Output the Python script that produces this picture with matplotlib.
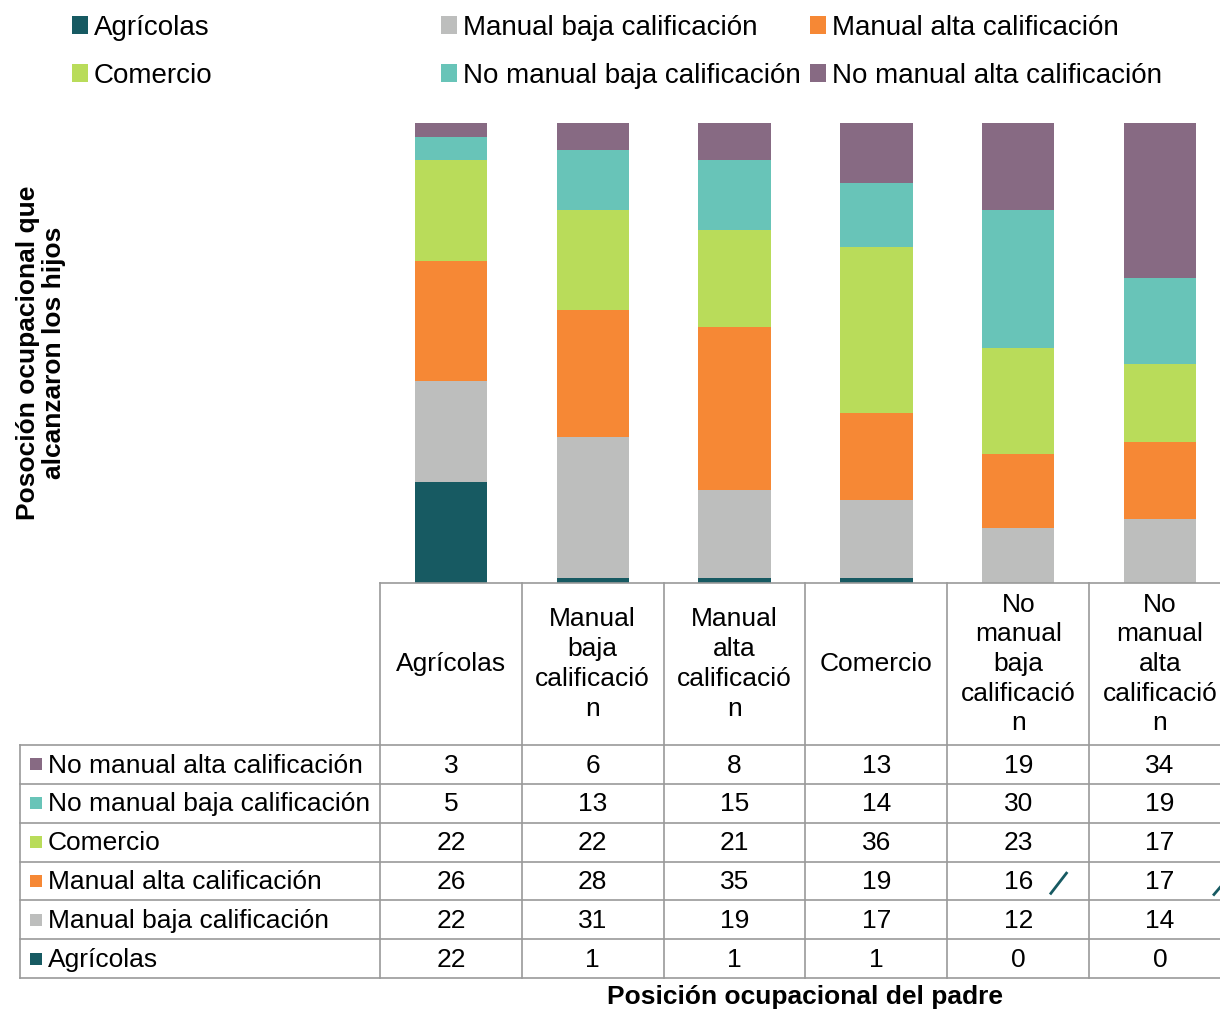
import numpy as np
import matplotlib.pyplot as plt
from matplotlib.patches import Patch, Rectangle

plt.rcParams['font.family'] = ['Liberation Sans', 'DejaVu Sans']

# father's occupational position (columns)
padre = ['Agrícolas', 'Manual baja calificación', 'Manual alta calificación',
         'Comercio', 'No manual baja calificación', 'No manual alta calificación']
padre_wrapped = ['Agrícolas', 'Manual\nbaja\ncalificació\nn', 'Manual\nalta\ncalificació\nn',
                 'Comercio', 'No\nmanual\nbaja\ncalificació\nn', 'No\nmanual\nalta\ncalificació\nn']

# children's position (stack order, bottom to top)
hijos = ['Agrícolas', 'Manual baja calificación', 'Manual alta calificación',
         'Comercio', 'No manual baja calificación', 'No manual alta calificación']
agricolas = [22, 1, 1, 1, 0, 0]
manual_baja = [22, 31, 19, 17, 12, 14]
manual_alta = [26, 28, 35, 19, 16, 17]
comercio = [22, 22, 21, 36, 23, 17]
no_manual_baja = [5, 13, 15, 14, 30, 19]
no_manual_alta = [3, 6, 8, 13, 19, 34]
colores = ['#175A62', '#BDBEBD', '#F68835', '#B9DC5A', '#68C4B8', '#876A83']

series = [agricolas, manual_baja, manual_alta, comercio, no_manual_baja, no_manual_alta]
data = np.array(series, dtype=float)
pct = data / data.sum(axis=0) * 100

W, H = 1220, 1011
fig = plt.figure(figsize=(W / 100, H / 100), dpi=100)

col_w = 141.83
x0 = 380
right = x0 + 6 * col_w

# bars
ax = fig.add_axes([x0 / W, 1 - 583 / H, (right - x0) / W, (583 - 123) / H])
bottom = np.zeros(6)
for i in range(6):
    ax.bar(np.arange(6) + 0.5, pct[i], width=0.51, bottom=bottom, color=colores[i],
           edgecolor='none')
    bottom += pct[i]
ax.set_xlim(0, 6)
ax.set_ylim(0, 100)
ax.axis('off')

# table
row_h = (978 - 745) / 6
lab_w = (x0 - 20) / col_w
head_h = (745 - 583) / row_h
tax = fig.add_axes([20 / W, 1 - 978 / H, (right - 20) / W, (978 - 583) / H])
tax.set_xlim(-lab_w, 6)
tax.set_ylim(0, 6 + head_h)
tax.axis('off')
lc = '#9a9a9a'
lw = 1.2
for r in range(7):
    tax.plot([-lab_w, 6], [r, r], color=lc, lw=lw, clip_on=False)
tax.plot([0, 6], [6 + head_h, 6 + head_h], color=lc, lw=lw, clip_on=False)
for c in range(7):
    tax.plot([c, c], [0, 6 + head_h], color=lc, lw=lw, clip_on=False)
tax.plot([-lab_w, -lab_w], [0, 6], color=lc, lw=lw, clip_on=False)

fs = 19
for c in range(6):
    tax.text(c + 0.5, 6 + head_h / 2, padre_wrapped[c], ha='center', va='center',
             fontsize=fs, linespacing=1.3)
for i in range(6):
    r = i  # Agrícolas at bottom row
    tax.add_patch(Rectangle((-lab_w + 10 / col_w, r + 0.5 - 6 / row_h), 12 / col_w, 12 / row_h,
                            color=colores[i], lw=0))
    tax.text(-lab_w + 28 / col_w, r + 0.47, hijos[i], ha='left', va='center', fontsize=fs)
    for c in range(6):
        tax.text(c + 0.5, r + 0.47, str(series[i][c]), ha='center', va='center', fontsize=fs)

# stray marks in the source
tax.plot([4.73, 4.84], [2.18, 2.70], color='#175A62', lw=2)
tax.plot([5.88, 5.95], [2.15, 2.45], color='#175A62', lw=2)

# legend in three columns
handles = [Patch(facecolor=c, edgecolor='none', label=l) for c, l in zip(colores, hijos)]
groups = [(72, [0, 3]), (441, [1, 4]), (810, [2, 5])]
for xpos, idx in groups:
    leg = fig.legend(handles=[handles[k] for k in idx], loc='upper left',
                     bbox_to_anchor=(xpos / W, 1 - 15 / H), frameon=False, fontsize=20,
                     handlelength=0.58, handleheight=0.6, handletextpad=0.2,
                     labelspacing=0.78, borderpad=0, borderaxespad=0)

fig.text(41 / W, 1 - 353 / H, 'Posoción ocupacional que\nalcanzaron los hijos', rotation=90,
         ha='center', va='center', fontsize=19, fontweight='bold', multialignment='center',
         linespacing=1.15)
fig.text(805 / W, 1 - 997 / H, 'Posición ocupacional del padre', ha='center', va='center',
         fontsize=19, fontweight='bold')

fig.savefig('out.png', dpi=100)
